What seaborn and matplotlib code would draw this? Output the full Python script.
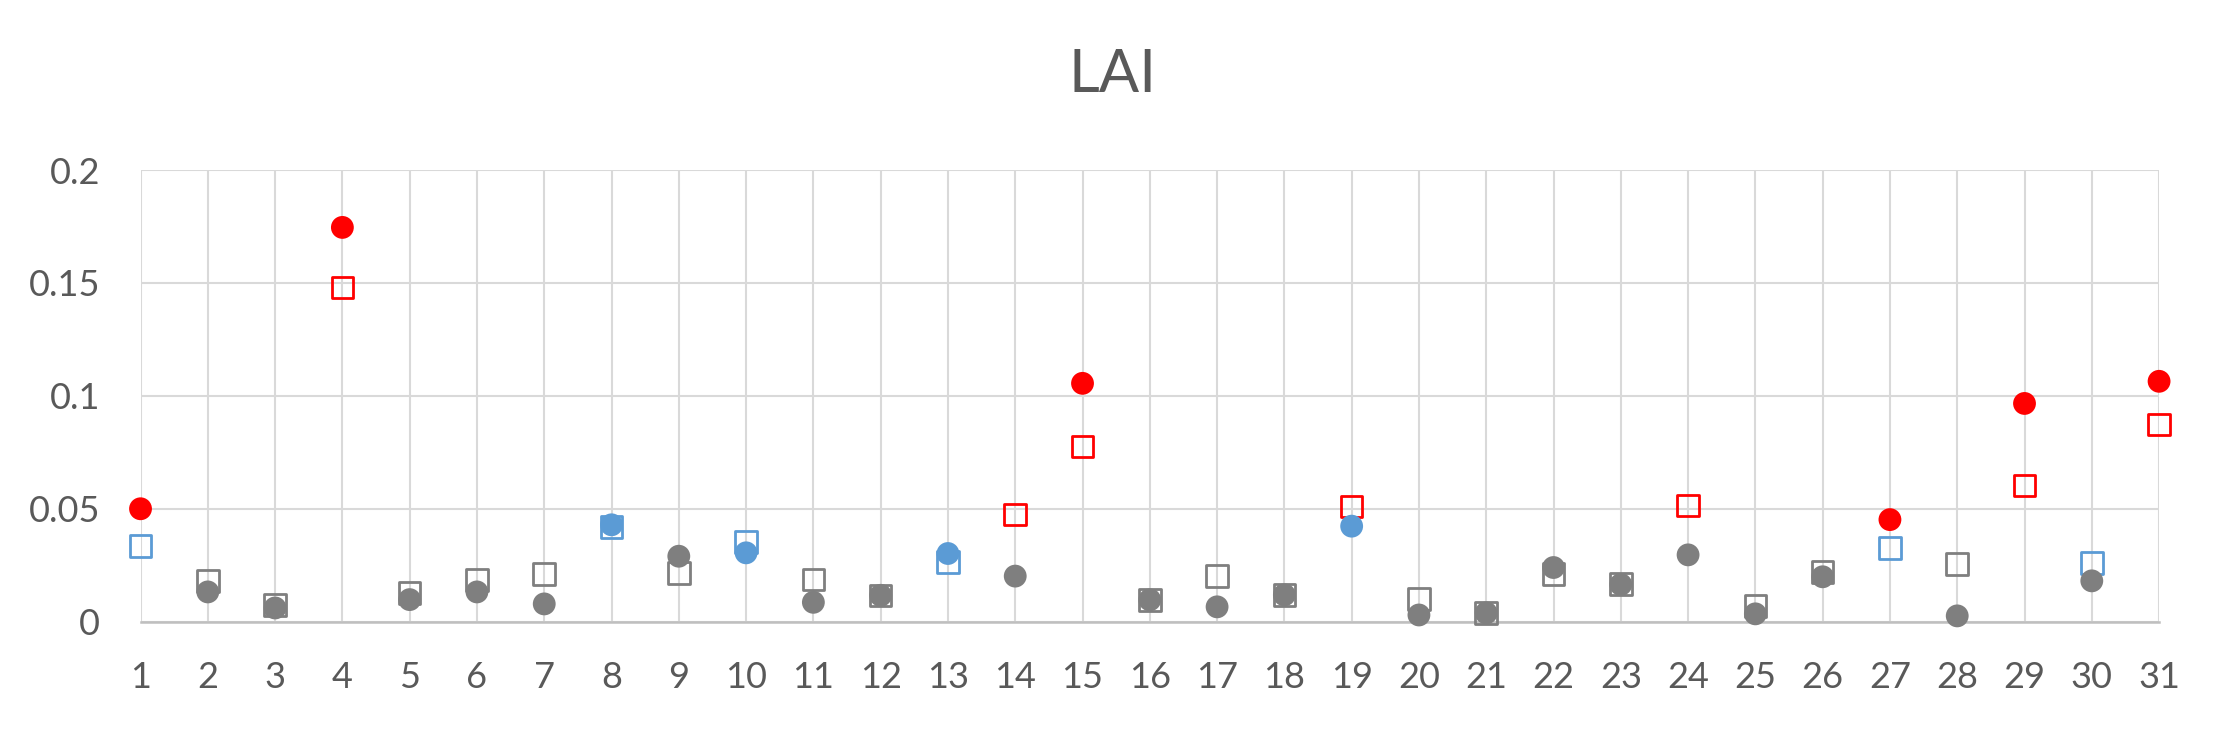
import matplotlib
matplotlib.use('Agg')

import matplotlib.pyplot as plt
import pandas as pd
import seaborn as sns
from matplotlib.ticker import FuncFormatter

# --- chart data ---
days = [1, 2, 3, 4, 5, 6, 7, 8, 9, 10, 11, 12, 13, 14, 15, 16,
        17, 18, 19, 20, 21, 22, 23, 24, 25, 26, 27, 28, 29, 30, 31]

circle_vals = [0.0501, 0.0133, 0.0062, 0.1746, 0.0099, 0.0133, 0.0080, 0.0430,
               0.0291, 0.0306, 0.0087, 0.0118, 0.0303, 0.0203, 0.1056, 0.0098,
               0.0067, 0.0120, 0.0424, 0.0031, 0.0040, 0.0241, 0.0166, 0.0297,
               0.0036, 0.0200, 0.0453, 0.0027, 0.0967, 0.0182, 0.1065]
circle_grp = ['red', 'gray', 'gray', 'red', 'gray', 'gray', 'gray', 'blue',
              'gray', 'blue', 'gray', 'gray', 'blue', 'gray', 'red', 'gray',
              'gray', 'gray', 'blue', 'gray', 'gray', 'gray', 'gray', 'gray',
              'gray', 'gray', 'red', 'gray', 'red', 'gray', 'red']

square_vals = [0.0336, 0.0182, 0.0075, 0.1480, 0.0129, 0.0185, 0.0213, 0.0420,
               0.0217, 0.0355, 0.0188, 0.0118, 0.0265, 0.0475, 0.0777, 0.0098,
               0.0204, 0.0120, 0.0512, 0.0102, 0.0040, 0.0213, 0.0169, 0.0515,
               0.0071, 0.0222, 0.0327, 0.0257, 0.0603, 0.0262, 0.0874]
square_grp = ['blue', 'gray', 'gray', 'red', 'gray', 'gray', 'gray', 'blue',
              'gray', 'blue', 'gray', 'gray', 'blue', 'red', 'red', 'gray',
              'gray', 'gray', 'red', 'gray', 'gray', 'gray', 'gray', 'red',
              'gray', 'gray', 'blue', 'gray', 'red', 'blue', 'red']

y_ticks = [0, 0.05, 0.1, 0.15, 0.2]

palette = {'red': '#FF0000', 'blue': '#5B9BD5', 'gray': '#7F7F7F'}
text_col = '#595959'
grid_col = '#D9D9D9'

sns.set_theme(style='white')
plt.rcParams['font.family'] = ['Lato', 'DejaVu Sans']

df_sq = pd.DataFrame({'day': days, 'value': square_vals, 'grp': square_grp})
df_ci = pd.DataFrame({'day': days, 'value': circle_vals, 'grp': circle_grp})

fig = plt.figure(figsize=(22.27, 7.29), dpi=100)
ax = fig.add_axes([0.0631, 0.1468, 0.9064, 0.62])

# hollow squares first
sns.scatterplot(data=df_sq, x='day', y='value', hue='grp', palette=palette,
                marker='s', s=240, linewidth=0, legend=False, ax=ax,
                zorder=3, clip_on=False)
sq = ax.collections[-1]
sq.set_edgecolors(sq.get_facecolors())
sq.set_facecolors('none')
sq.set_linewidths(2.0)

# filled circles on top
sns.scatterplot(data=df_ci, x='day', y='value', hue='grp', palette=palette,
                marker='o', s=270, linewidth=0, legend=False, ax=ax,
                zorder=4, clip_on=False)

ax.set_xlim(1, 31)
ax.set_ylim(0, 0.2)
ax.set_xticks(days)
ax.set_yticks(y_ticks)
ax.yaxis.set_major_formatter(FuncFormatter(lambda v, _: f'{v:g}'))
ax.grid(True, color=grid_col, linewidth=1.5, zorder=0)
ax.set_axisbelow(True)
for side in ['top', 'right', 'left']:
    ax.spines[side].set_visible(False)
ax.spines['bottom'].set_color('#BFBFBF')
ax.spines['bottom'].set_linewidth(1.8)
ax.tick_params(axis='both', length=0, labelsize=26, labelcolor=text_col)
ax.tick_params(axis='x', pad=28)
ax.tick_params(axis='y', pad=29)
ax.set_xlabel('')
ax.set_ylabel('')

fig.text(0.4997, 1 - 74.7 / 729, 'LAI', ha='center', va='center',
         fontsize=43, color=text_col)

fig.savefig('out.png', dpi=100, facecolor='white')
plt.close(fig)
